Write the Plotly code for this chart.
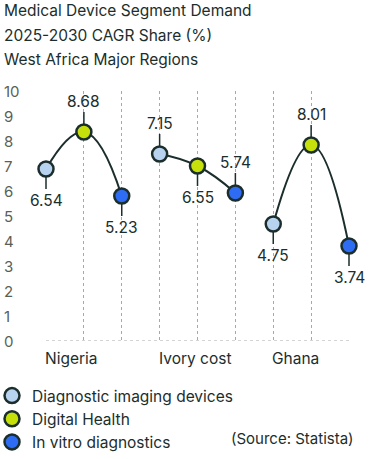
import plotly.graph_objects as go

countries = ["Nigeria", "Ivory cost", "Ghana"]
series_names = ["Diagnostic imaging devices", "Digital Health", "In vitro diagnostics"]
# plotted marker positions
diag_imaging = [6.88, 7.48, 4.68]
digital_health = [8.36, 7.0, 7.84]
in_vitro = [5.8, 5.92, 3.8]
# printed data labels
diag_imaging_lbl = ["6.54", "7.15", "4.75"]
digital_health_lbl = ["8.68", "6.55", "8.01"]
in_vitro_lbl = ["5.23", "5.74", "3.74"]
# label side: -1 above, +1 below
diag_side = [1, -1, 1]
digital_side = [-1, 1, -1]
vitro_side = [1, -1, 1]
y_ticks = list(range(0, 11))
title_lines = ["Medical Device Segment Demand", "2025-2030 CAGR Share (%)", "West Africa Major Regions"]

colors = ["#b7d3f0", "#c6e00c", "#2f6cf4"]
dark = "#1b2e2c"
font_family = "Inter, 'Noto Sans', sans-serif"

series_vals = [diag_imaging, digital_health, in_vitro]
series_lbls = [diag_imaging_lbl, digital_health_lbl, in_vitro_lbl]
series_side = [diag_side, digital_side, vitro_side]

W, H = 371, 459
plot_l, plot_r, plot_t, plot_b = 46, 349, 91, 341
pw, ph = plot_r - plot_l, plot_b - plot_t


def px(xp):
    return (xp - plot_l) / pw


def py(yp):
    return (plot_b - yp) / ph


fig = go.Figure()

# connecting curves per country
for ci, c in enumerate(countries):
    xs = [ci * 3 + si for si in range(3)]
    ys = [series_vals[si][ci] for si in range(3)]
    fig.add_trace(go.Scatter(x=xs, y=ys, mode="lines",
                             line=dict(color=dark, width=2, shape="spline", smoothing=1.3),
                             showlegend=False, hoverinfo="skip", cliponaxis=False))

annotations = []
for si, name in enumerate(series_names):
    xs = [ci * 3 + si for ci in range(3)]
    fig.add_trace(go.Scatter(x=xs, y=series_vals[si], mode="markers", name=name,
                             marker=dict(size=15, color=colors[si],
                                         line=dict(color=dark, width=2.5)),
                             cliponaxis=False))
    for ci in range(3):
        annotations.append(dict(x=xs[ci], y=series_vals[si][ci], xref="x", yref="y",
                                text=series_lbls[si][ci], showarrow=True, arrowhead=0,
                                arrowwidth=1.5, arrowcolor=dark, standoff=7,
                                ax=0, ay=31 * series_side[si][ci],
                                font=dict(size=15.5, color=dark, family=font_family)))

for ci, c in enumerate(countries):
    annotations.append(dict(x=ci * 3, y=0, xref="x", yref="y", text=c, showarrow=False,
                            xanchor="left", yanchor="top", yshift=-6, xshift=-3,
                            font=dict(size=15.5, color=dark, family=font_family)))

# y tick labels, left aligned
for v in y_ticks:
    annotations.append(dict(x=px(2), y=v, xref="paper", yref="y", text=str(v), showarrow=False,
                            xanchor="left", yanchor="middle",
                            font=dict(size=15, color="#5b5f56", family=font_family)))

# title lines
for i, t in enumerate(title_lines):
    annotations.append(dict(x=px(2), y=py(11 + 24 * i), xref="paper", yref="paper", text=t,
                            showarrow=False, xanchor="left", yanchor="middle",
                            font=dict(size=15.5, color=dark, family=font_family)))

annotations.append(dict(x=px(356), y=py(438), xref="paper", yref="paper", text="(Source: Statista)",
                        showarrow=False, xanchor="right", yanchor="middle",
                        font=dict(size=15, color=dark, family=font_family)))

fig.update_layout(
    width=W, height=H,
    margin=dict(l=plot_l, r=W - plot_r, t=plot_t, b=H - plot_b, autoexpand=False),
    paper_bgcolor="white", plot_bgcolor="white",
    font=dict(family=font_family, color=dark),
    xaxis=dict(range=[0, 8], tickvals=list(range(9)), showticklabels=False,
               showgrid=True, gridcolor="#a8a8a8", griddash="dot", gridwidth=1,
               zeroline=False, showline=False, fixedrange=True, automargin=False),
    yaxis=dict(range=[0, 10], tickvals=y_ticks, showticklabels=False,
               showgrid=False, zeroline=False, showline=False, automargin=False),
    legend=dict(orientation="v", xref="paper", yref="paper",
                x=px(-8), xanchor="left", y=py(379), yanchor="top",
                font=dict(size=15.5, color=dark, family=font_family),
                itemclick=False, tracegroupgap=0, bgcolor="rgba(0,0,0,0)"),
    shapes=[dict(type="line", xref="x", yref="y", x0=0, x1=8, y0=0, y1=0,
                 line=dict(color="#a8a8a8", width=1, dash="dot"))],
    annotations=annotations,
    showlegend=True,
)

fig.write_html("out.html", config={"displayModeBar": False},
               post_script="document.body.style.margin='0px';")
